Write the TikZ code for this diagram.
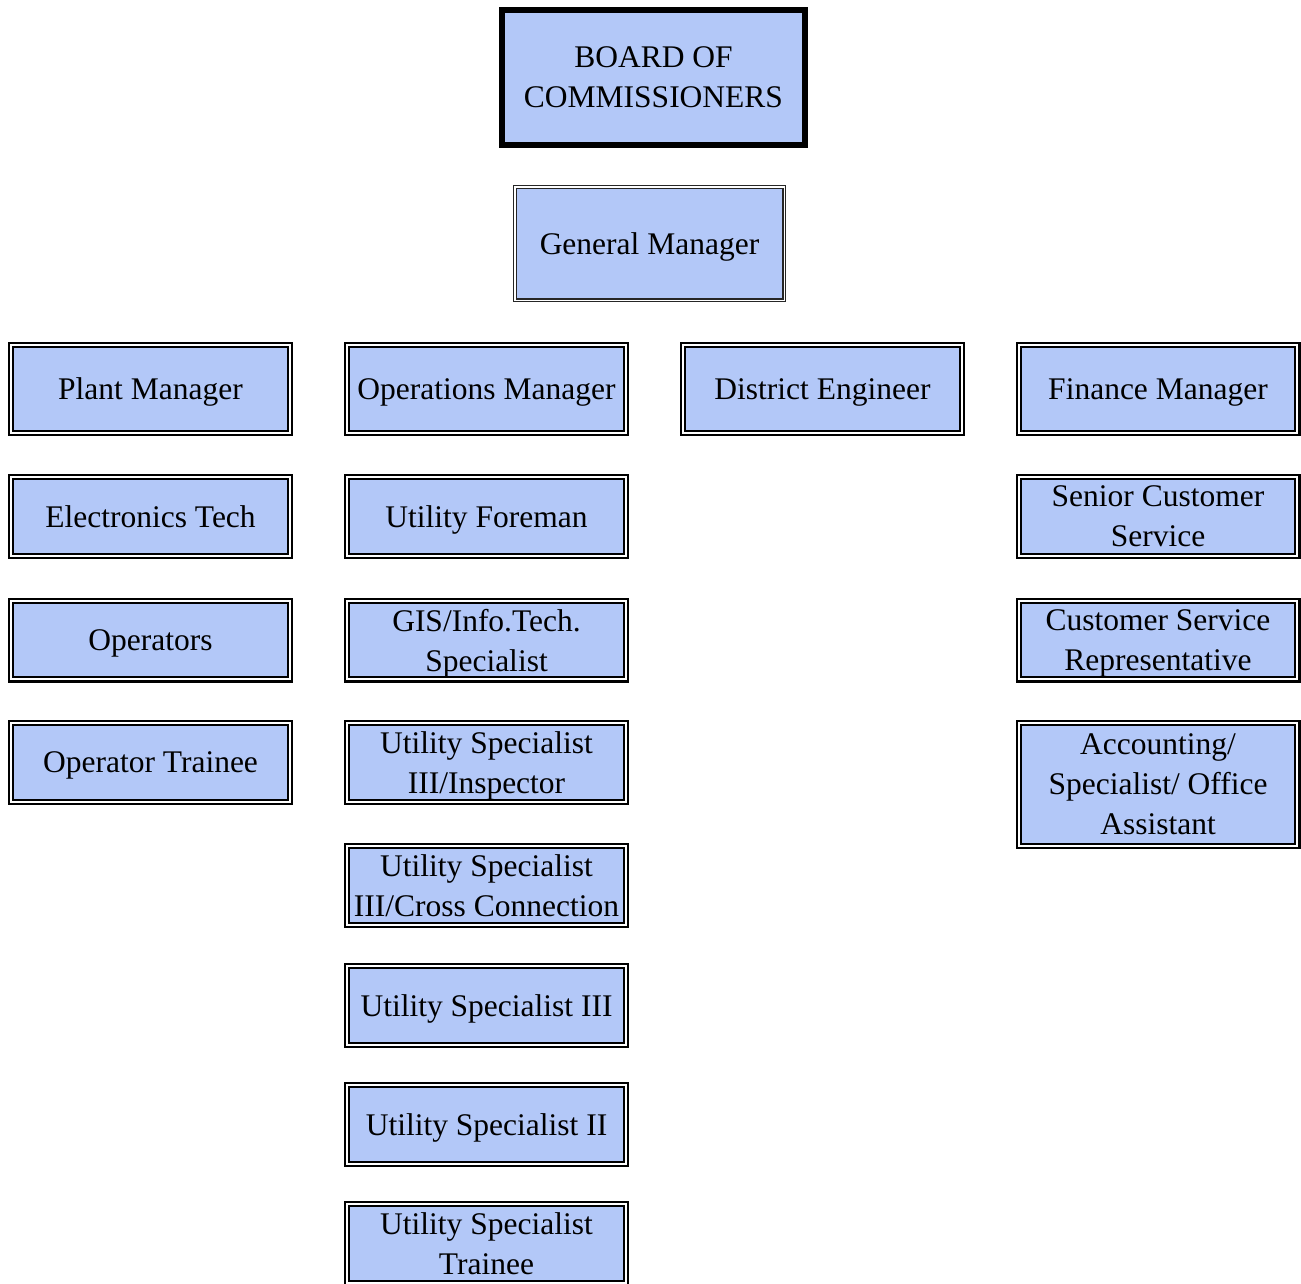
\documentclass[tikz,border=0pt]{standalone}
\usepackage{fontspec}
\setmainfont{Liberation Serif}
\definecolor{boxblue}{RGB}{179,200,248}
\begin{document}
\begin{tikzpicture}[x=1pt,y=-1pt,
  every node/.style={font=\fontsize{31.5}{40}\selectfont, align=center, inner sep=0pt, outer sep=0pt, text depth=0pt},
  boardbox/.style={fill=boxblue, draw=black, line width=6pt, minimum width=303pt, minimum height=135pt},
  gmbox/.style={fill=boxblue, draw=black!85, line width=1.2pt, double=white, double distance=1.5pt, minimum width=269.5pt, minimum height=113.5pt},
  rolebox/.style={fill=boxblue, draw=black, line width=2.2pt, double=white, double distance=2pt, minimum width=278.6pt, minimum height=#1},
  rolebox/.default=78.6pt]
\useasboundingbox (0,0) rectangle (1301,1283);
\fill[white] (0,0) rectangle (1301,1283);
\node[boardbox] (board) at (653.5,77.5) {BOARD OF\\COMMISSIONERS};
\node[gmbox] (gm) at (649.5,243.5) {General Manager};
% row 1
\node[rolebox=87.6pt] (plant) at (150.5,389) {Plant Manager};
\node[rolebox=87.6pt] (ops) at (486.5,389) {Operations Manager};
\node[rolebox=87.6pt] (dist) at (822.5,389) {District Engineer};
\node[rolebox=87.6pt] (fin) at (1158,389) {Finance Manager};
% left column
\node[rolebox] (etech) at (150.5,516.5) {Electronics Tech};
\node[rolebox] (operators) at (150.5,640) {Operators};
\node[rolebox] (optrainee) at (150.5,762.5) {Operator Trainee};
% operations column
\node[rolebox] (foreman) at (486.5,516.5) {Utility Foreman};
\node[rolebox] (gis) at (486.5,640) {GIS/Info.Tech.\\Specialist};
\node[rolebox] (usinsp) at (486.5,762.5) {Utility Specialist\\III/Inspector};
\node[rolebox] (uscross) at (486.5,885.5) {Utility Specialist\\III/Cross Connection};
\node[rolebox] (us3) at (486.5,1005.5) {Utility Specialist III};
\node[rolebox] (us2) at (486.5,1124.5) {Utility Specialist II};
\node[rolebox] (ustrainee) at (486.5,1243.5) {Utility Specialist\\Trainee};
% finance column
\node[rolebox] (senior) at (1158,516.5) {Senior Customer\\Service};
\node[rolebox] (csr) at (1158,640) {Customer Service\\Representative};
\node[rolebox=122.6pt] (acct) at (1158,784.5) {Accounting/\\Specialist/ Office\\Assistant};
\end{tikzpicture}
\end{document}
